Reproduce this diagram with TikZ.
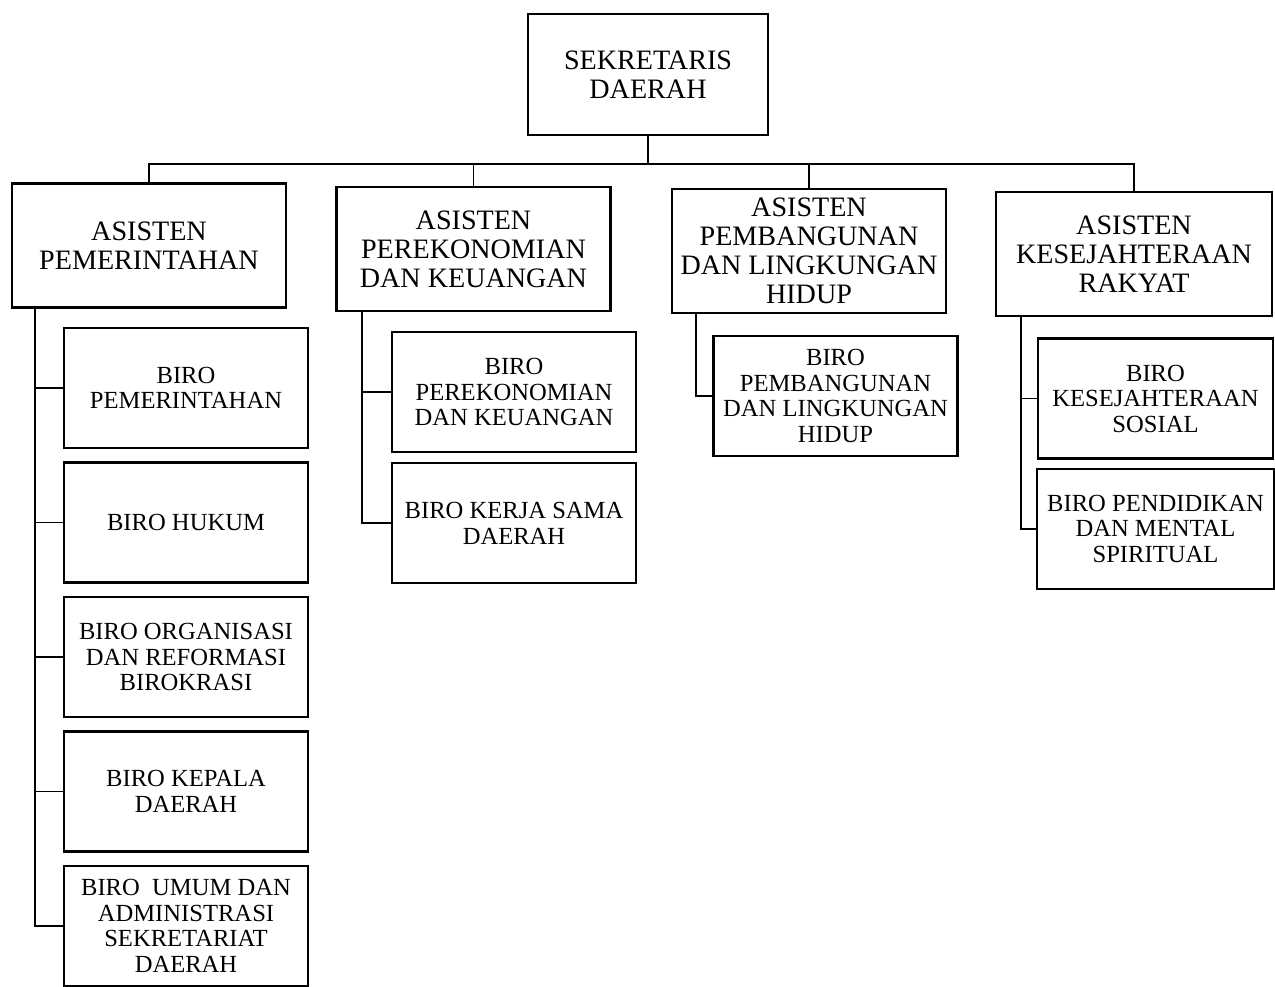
\documentclass[tikz,border=0pt]{standalone}
\usepackage{fontspec}
\setmainfont{Liberation Serif}
\usetikzlibrary{positioning}

\begin{document}
\begin{tikzpicture}[x=0.02cm, y=-0.02cm, node distance=0.245cm,
    box/.style={draw, line width=1.3pt, align=center, inner sep=2pt},
    kepala/.style={box, minimum width=4.8cm, minimum height=2.42cm, font=\fontsize{16}{16.5}\selectfont},
    asisten/.style={box, minimum width=5.48cm, minimum height=2.48cm, font=\fontsize{16}{16.5}\selectfont},
    biro/.style={box, minimum width=4.88cm, minimum height=2.4cm, font=\fontsize{14}{14.5}\selectfont},
    garis/.style={line width=1.1pt}]
    \useasboundingbox (0,0) rectangle (1275,987);

    % pimpinan
    \node[kepala] (sekda) at (648,74.5) {SEKRETARIS\\DAERAH};

    % para asisten
    \node[asisten] (as1) at (149,245.5) {ASISTEN\\PEMERINTAHAN};
    \node[asisten] (as2) at (473.5,249) {ASISTEN\\PEREKONOMIAN\\DAN KEUANGAN};
    \node[asisten] (as3) at (809,251) {ASISTEN\\PEMBANGUNAN\\DAN LINGKUNGAN\\HIDUP};
    \node[asisten, minimum width=5.52cm] (as4) at (1134,254) {ASISTEN\\KESEJAHTERAAN\\RAKYAT};

    \coordinate (rel) at ([yshift=-0.55cm]sekda.south);
    \draw[garis] (sekda.south) -- (rel);
    \draw[garis] (as1.north) |- (rel) -| (as4.north);
    \draw[garis] (as2.north) -- (as2.north |- rel);
    \draw[garis] (as3.north) -- (as3.north |- rel);

    % biro di bawah asisten pemerintahan
    \node[biro] (b11) at (186,388) {BIRO\\PEMERINTAHAN};
    \node[biro, below=of b11] (b12) {BIRO HUKUM};
    \node[biro, below=of b12] (b13) {BIRO ORGANISASI\\DAN REFORMASI\\BIROKRASI};
    \node[biro, below=of b13] (b14) {BIRO KEPALA\\DAERAH};
    \node[biro, below=of b14, inner xsep=0pt] (b15) {BIRO\enspace UMUM DAN\\ADMINISTRASI\\SEKRETARIAT\\DAERAH};

    % biro di bawah asisten perekonomian
    \node[biro] (b21) at (514,392) {BIRO\\PEREKONOMIAN\\DAN KEUANGAN};
    \node[biro, below=0.18cm of b21] (b22) {BIRO KERJA SAMA\\DAERAH};

    % biro di bawah asisten pembangunan
    \node[biro] (b31) at (835.5,396) {BIRO\\PEMBANGUNAN\\DAN LINGKUNGAN\\HIDUP};

    % biro di bawah asisten kesra
    \node[biro, minimum width=4.7cm] (b41) at (1155.5,398.5) {BIRO\\KESEJAHTERAAN\\SOSIAL};
    \node[biro, minimum width=4.74cm, below=0.16cm of b41] (b42) {BIRO PENDIDIKAN\\DAN MENTAL\\SPIRITUAL};

    \coordinate (sp1) at ([xshift=0.48cm]as1.south west);
    \coordinate (sp2) at ([xshift=0.54cm]as2.south west);
    \coordinate (sp3) at ([xshift=0.5cm]as3.south west);
    \coordinate (sp4) at ([xshift=0.52cm]as4.south west);

    \draw[garis] (sp1) |- (b15.west);
    \foreach \b in {b11,b12,b13,b14}
        \draw[garis] (sp1 |- \b.west) -- (\b.west);
    \draw[garis] (sp2) |- (b22.west);
    \draw[garis] (sp2 |- b21.west) -- (b21.west);
    \draw[garis] (sp3) |- (b31.west);
    \draw[garis] (sp4) |- (b42.west);
    \draw[garis] (sp4 |- b41.west) -- (b41.west);
\end{tikzpicture}
\end{document}
